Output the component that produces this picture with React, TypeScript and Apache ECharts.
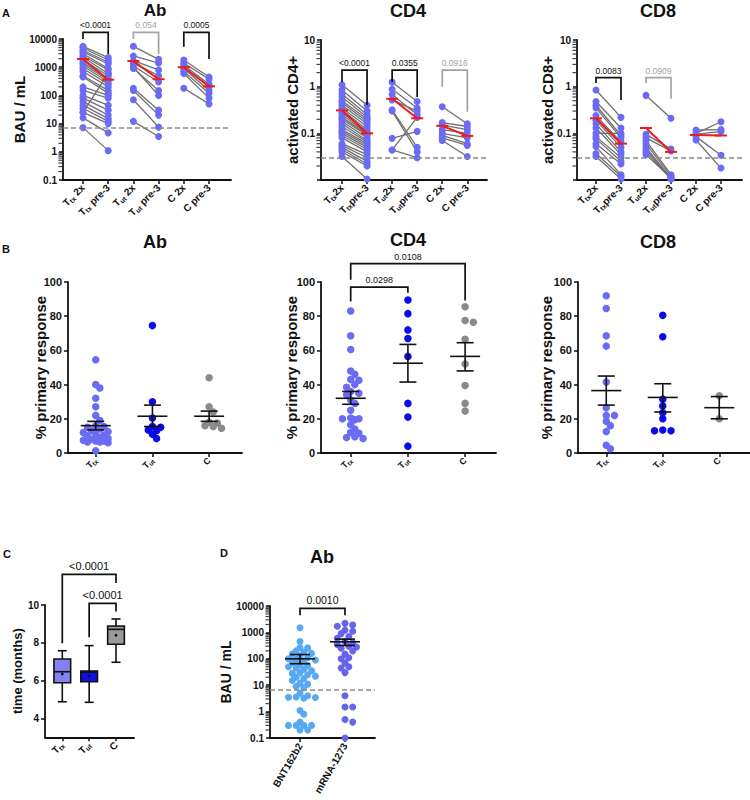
import React, { useEffect, useRef } from 'react';
import * as echarts from 'echarts';

const FONT = '"Liberation Sans", Arial, Helvetica, sans-serif';
const INK = '#111111';

// ---------------- Panel A : paired values (2x -> pre-3) ----------------
const abTtx2x = [5500, 4800, 4000, 3500, 3000, 2500, 2200, 1800, 1500, 1300, 1100, 900, 700, 500, 450, 200, 150, 100, 80, 60, 45, 35, 25, 16, 7.2, 25];
const abTtxPre3 = [2200, 1800, 1500, 1300, 900, 800, 600, 500, 400, 350, 300, 250, 200, 150, 120, 100, 80, 45, 30, 20, 15, 12, 10, 4.7, 1.1, 600];
const abTut2x = [5500, 2500, 1700, 1400, 1100, 1000, 900, 180, 150, 70, 12];
const abTutPre3 = [1900, 1400, 800, 500, 300, 100, 150, 30, 20, 7.5, 3.5];
const abC2x = [1800, 1400, 1200, 1000, 900, 700, 600, 180];
const abCPre3 = [450, 380, 250, 200, 150, 120, 80, 50];
const abMeans = [[1950, 360], [1650, 375], [1000, 210]];

const cd4Ttx2x = [1.1, 0.85, 0.7, 0.6, 0.5, 0.45, 0.4, 0.35, 0.32, 0.28, 0.25, 0.22, 0.2, 0.18, 0.16, 0.14, 0.12, 0.11, 0.1, 0.09, 0.08, 0.06, 0.055, 0.05, 0.045, 0.04, 0.032];
const cd4TtxPre3 = [0.4, 0.3, 0.25, 0.22, 0.2, 0.18, 0.16, 0.14, 0.12, 0.11, 0.1, 0.095, 0.09, 0.08, 0.07, 0.065, 0.06, 0.055, 0.05, 0.045, 0.04, 0.035, 0.03, 0.025, 0.022, 0.02, 0.0105];
const cd4Tut2x = [1.25, 0.88, 0.68, 0.52, 0.32, 0.3, 0.078, 0.044, 0.044];
const cd4TutPre3 = [0.48, 0.35, 0.25, 0.3, 0.05, 0.04, 0.11, 0.22, 0.03];
const cd4C2x = [0.37, 0.17, 0.15, 0.12, 0.1, 0.09, 0.08, 0.07];
const cd4CPre3 = [0.16, 0.14, 0.12, 0.1, 0.08, 0.06, 0.055, 0.032];
const cd4Means = [[0.31, 0.1], [0.55, 0.21], [0.145, 0.088]];

const cd8Ttx2x = [0.85, 0.48, 0.4, 0.35, 0.24, 0.19, 0.16, 0.13, 0.1, 0.085, 0.077, 0.06, 0.052, 0.037, 0.032];
const cd8TtxPre3 = [0.22, 0.13, 0.09, 0.08, 0.065, 0.05, 0.04, 0.035, 0.1, 0.03, 0.025, 0.022, 0.013, 0.012, 0.0105];
const cd8Tut2x = [0.65, 0.095, 0.08, 0.07, 0.06, 0.05, 0.045, 0.04, 0.035];
const cd8TutPre3 = [0.21, 0.046, 0.042, 0.013, 0.012, 0.011, 0.0105, 0.0105, 0.011];
const cd8C2x = [0.118, 0.1, 0.095, 0.085, 0.072];
const cd8CPre3 = [0.12, 0.177, 0.11, 0.034, 0.018];
const cd8Means = [[0.21, 0.06], [0.13, 0.04], [0.092, 0.09]];

const abLimit = 7;
const tcellLimit = 0.031;

const abPairLabels = ['{n|T}{s|tx}{n| 2x}', '{n|T}{s|tx}{n| pre-3}', '{n|T}{s|ut}{n| 2x}', '{n|T}{s|ut}{n| pre-3}', '{n|C 2x}', '{n|C pre-3}'];
const tPairLabels = ['{n|T}{s|tx}{n|2x}', '{n|T}{s|tx}{n|pre-3}', '{n|T}{s|ut}{n|2x}', '{n|T}{s|ut}{n|pre-3}', '{n|C 2x}', '{n|C pre-3}'];
const groupLabels = ['{n|T}{s|tx}', '{n|T}{s|ut}', '{n|C}'];
const vaccineLabels = ['BNT162b2', 'mRNA-1273'];

const abBrackets = [
  { x0: 0, x1: 1, top: 17300, l: 10000, r: 2940, p: '<0.0001', sig: true },
  { x0: 2, x1: 3, top: 17300, l: 10000, r: 2940, p: '0.054', sig: false },
  { x0: 4, x1: 5, top: 17300, l: 5330, r: 1950, p: '0.0005', sig: true },
];
const cd4Brackets = [
  { x0: 0, x1: 1, top: 2.27, l: 1.26, r: 0.405, p: '<0.0001', sig: true },
  { x0: 2, x1: 3, top: 2.27, l: 1.26, r: 0.6, p: '0.0355', sig: true },
  { x0: 4, x1: 5, top: 2.27, l: 0.99, r: 0.29, p: '0.0916', sig: false },
];
const cd8Brackets = [
  { x0: 0, x1: 1, top: 1.56, l: 1.2, r: 0.52, p: '0.0083', sig: true },
  { x0: 2, x1: 3, top: 1.56, l: 1.2, r: 0.55, p: '0.0909', sig: false },
];

// ---------------- Panel B : % primary response ----------------
const bAbTtx = [54.5, 40, 38, 32, 27, 22, 19, 16, 15.5, 15, 14, 13, 12.5, 12, 11, 10.5, 10, 9, 8.5, 8, 7.5, 7, 7, 6.5, 6.5, 6, 1.3];
const bAbTut = [74.5, 30, 20.5, 15.5, 15, 13.5, 13, 11, 8.5];
const bAbC = [44, 27, 24, 18, 17.5, 16, 15.5, 14.5];
const bAbStats = [[16, 13.5, 18.5], [21.5, 15.5, 28], [21.5, 18.5, 24.5]];

const bCD4Ttx = [83, 68.5, 60.5, 48, 46, 43, 42.5, 40, 38.5, 36, 35, 34, 31, 29, 25, 20.5, 20, 20, 19.5, 16.5, 14, 12, 11.5, 9.5, 9, 8.5];
const bCD4Tut = [89.5, 81.5, 72, 67, 56.5, 29, 21, 4];
const bCD4C = [85.5, 77.5, 76.5, 66.5, 52, 39.5, 29, 24.5];
const bCD4Stats = [[32, 28.5, 36], [52.5, 41.5, 63.5], [56.5, 48, 64.5]];
const bCD4Brackets = [
  { x0: 0, x1: 1, top: 97, l: 88.6, r: 93.7, p: '0.0298', sig: true },
  { x0: 0, x1: 2, top: 110.7, l: 101.3, r: 89.2, p: '0.0108', sig: true },
];

const bCD8Ttx = [92, 84.5, 68.5, 62.5, 41.5, 26.5, 22, 22, 18.5, 16, 12.5, 4.5, 2.5];
const bCD8Tut = [80.5, 68, 31.5, 27.5, 23.5, 20, 13.5, 13, 13];
const bCD8C = [33.5, 20];
const bCD8Stats = [[36.5, 28, 45], [32.5, 24, 40.5], [26.5, 20, 33]];

// ---------------- Panel C : time (months) box plots ----------------
const cBoxStats = [[4.88, 5.89, 6.47, 7.14, 7.58], [4.85, 5.94, 6.45, 6.51, 7.85], [6.97, 7.92, 8.71, 8.89, 9.26]];
const cBoxMeans = [6.35, 6.23, 8.4];
const cTicks = [4, 6, 8, 10];
const cBrackets = [
  { x0: 0, x1: 2, top: 11.62, l: 7.97, r: 11.16, p: '<0.0001', sig: true },
  { x0: 1, x1: 2, top: 10.09, l: 8.29, r: 9.65, p: '<0.0001', sig: true },
];

// ---------------- Panel D : Ab by vaccine ----------------
const dBNT = [1500, 450, 270, 260, 200, 180, 160, 150, 130, 110, 100, 95, 90, 85, 70, 60, 55, 50, 45, 40, 35, 30, 28, 25, 22, 20, 18, 15, 12, 11, 9, 8, 5, 4, 3.6, 3.5, 3.4, 3.2, 1.1, 0.8, 0.4, 0.3, 0.3, 0.3, 0.3, 0.2, 0.2];
const dMRNA = [2200, 1900, 1700, 1200, 1100, 900, 700, 600, 450, 400, 350, 300, 280, 250, 200, 150, 110, 100, 70, 50, 45, 30, 4, 1.5, 1.5, 0.5, 0.4, 0.1];
const dStats = [[100, 65, 145], [440, 320, 555]];
const dBrackets = [{ x0: 0, x1: 1, top: 8190, l: 4460, r: 4460, p: '0.0010', sig: true }];

// ---------------- styling ----------------
const A_DOT = '#6b6bf4';
const LINE_GRAY = '#707070';
const RED = '#ee1b1b';
const B_COLORS = ['#6b6bf4', '#0b0bea', '#8a8a8a'];
const BOX_COLORS = ['#8282f4', '#0f0fe2', '#9b9b9b'];
const D_COLORS = ['#58a9f4', '#6464ee'];
const SIG = '#111111';
const NS = '#a3a3a3';

const rich = (n: number, s: number, pad: number) => ({
  n: { fontSize: n, fontWeight: 'bold', fontFamily: FONT, color: INK },
  s: { fontSize: s, fontWeight: 'bold', fontFamily: FONT, color: INK, padding: [pad, 0, 0, 0] },
});

// beeswarm layout (dots may overlap a little, spread limited to maxOff px)
function swarm(vals: number[], cat: number, unitPx: number, toPx: (v: number) => number, d: number, maxOff: number) {
  const idx = vals.map((_, i) => i).sort((a, b) => vals[b] - vals[a]);
  const placed: number[][] = [];
  const out: number[][] = new Array(vals.length);
  const minDist = d * 0.7;
  const step = d * 0.55;
  for (const i of idx) {
    const y = toPx(vals[i]);
    let best = 0;
    let bestScore = -1;
    for (let k = 0; k < 80; k++) {
      const cand = k === 0 ? 0 : (k % 2 ? 1 : -1) * Math.ceil(k / 2) * step;
      if (Math.abs(cand) > maxOff) break;
      let md = Infinity;
      for (const p of placed) md = Math.min(md, Math.hypot(p[0] - cand, p[1] - y));
      if (md >= minDist) { best = cand; bestScore = Infinity; break; }
      if (md > bestScore) { bestScore = md; best = cand; }
    }
    placed.push([best, y]);
    out[i] = [cat + best / unitPx, vals[i]];
  }
  return out;
}

function buildOption() {
  const grids: any[] = [
    { left: 63, top: 39, width: 168, height: 141 },
    { left: 321, top: 40, width: 166, height: 140 },
    { left: 577, top: 40, width: 165, height: 140 },
    { left: 68, top: 282, width: 174, height: 171 },
    { left: 321, top: 282, width: 175, height: 171 },
    { left: 578, top: 282, width: 172, height: 171 },
    { left: 45, top: 605, width: 89, height: 132.3 },
    { left: 270, top: 606, width: 105, height: 132 },
  ].map((g) => ({ ...g, outerBoundsMode: 'none' }));

  const xRanges = [
    [-0.794, 5.873], [-0.838, 5.786], [-0.76, 5.84],
    [-0.489, 2.58], [-0.519, 2.54], [-0.5, 2.544],
    [-0.644, 2.67], [-0.667, 1.667],
  ];

  const xAxes: any[] = [];
  const yAxes: any[] = [];
  const series: any[] = [];

  const xAxis = (gi: number, labels: string[], rotate: number, r: any, fs: number) => ({
    type: 'value', gridIndex: gi, min: xRanges[gi][0], max: xRanges[gi][1],
    axisLine: { show: true, onZero: false, lineStyle: { color: INK, width: 1.8 } },
    axisTick: { show: true, length: 4, lineStyle: { color: INK, width: 1.5 }, customValues: labels.map((_, i) => i) },
    axisLabel: {
      customValues: labels.map((_, i) => i), rotate, margin: 6, rich: r,
      fontFamily: FONT, fontWeight: 'bold', fontSize: fs, color: INK,
      formatter: (v: number) => labels[Math.round(v)] ?? '',
    },
    splitLine: { show: false },
  });

  const yBase = (gi: number, name: string, nameGap: number, nameSize: number) => ({
    gridIndex: gi, name, nameLocation: 'middle', nameRotate: 90, nameGap, nameMoveOverlap: false,
    nameTextStyle: { fontFamily: FONT, fontWeight: 'bold', fontSize: nameSize, color: INK },
    axisLine: { show: true, onZero: false, lineStyle: { color: INK, width: 1.8 } },
    axisTick: { show: true, length: 4, lineStyle: { color: INK, width: 1.5 } },
    splitLine: { show: false },
  });

  const yLog = (gi: number, min: number, max: number, name: string, nameGap: number, nameSize: number, labelSize: number, minShown: number) => ({
    ...yBase(gi, name, nameGap, nameSize),
    type: 'log', logBase: 10, min, max,
    axisLabel: {
      fontFamily: FONT, fontWeight: 'bold', fontSize: labelSize, color: INK, margin: 6,
      formatter: (v: number) => (v < minShown * 0.999 ? '' : String(parseFloat(v.toPrecision(6)))),
    },
  });

  const minorTicks = (gi: number, min: number, max: number) => {
    const data: number[][] = [];
    for (let d = Math.round(Math.log10(min)); d < Math.round(Math.log10(max)); d++) {
      for (let k = 2; k <= 9; k++) data.push([xRanges[gi][0], k * Math.pow(10, d)]);
    }
    series.push({
      type: 'scatter', xAxisIndex: gi, yAxisIndex: gi, data, symbol: 'rect', symbolSize: [3.5, 1.2],
      symbolOffset: [-2.8, 0], itemStyle: { color: INK }, silent: true, clip: false, z: 1,
    });
  };

  const lodLine = (value: number) => ({
    silent: true, symbol: ['none', 'none'], label: { show: false },
    lineStyle: { type: [5, 3], color: '#8a8a8a', width: 1.5 }, data: [{ yAxis: value }],
  });

  const bracketSeries = (gi: number, brackets: any[], fs: number) => {
    series.push({
      type: 'custom', xAxisIndex: gi, yAxisIndex: gi, clip: false, silent: true, z: 6,
      data: brackets.map((b) => [b.x0, b.top]),
      renderItem: (params: any, api: any) => {
        const b = brackets[params.dataIndex];
        const color = b.sig ? SIG : NS;
        const pL = api.coord([b.x0, b.top]);
        const pR = api.coord([b.x1, b.top]);
        const pLe = api.coord([b.x0, b.l]);
        const pRe = api.coord([b.x1, b.r]);
        return {
          type: 'group',
          children: [
            { type: 'polyline', shape: { points: [pLe, pL, pR, pRe] }, style: { stroke: color, lineWidth: 1.7, fill: 'none' } },
            {
              type: 'text', x: (pL[0] + pR[0]) / 2, y: pL[1] - 2.5,
              style: { text: b.p, fill: color, fontSize: fs, fontFamily: FONT, align: 'center', verticalAlign: 'bottom', textAlign: 'center', textVerticalAlign: 'bottom' },
            },
          ],
        };
      },
    });
  };

  // ----- Panel A -----
  const pairedPanel = (gi: number, groups: number[][][], means: number[][], brackets: any[], lod: number, labels: string[], yMin: number, yMax: number, yName: string, nameGap: number, minShown: number) => {
    xAxes.push(xAxis(gi, labels, 45, rich(10, 7, 5), 10));
    yAxes.push(yLog(gi, yMin, yMax, yName, nameGap, 15, 10, minShown));
    const pairs: number[][] = [];
    const dots: number[][] = [];
    groups.forEach((g, k) => {
      g[0].forEach((v, i) => {
        pairs.push([k * 2, v, g[1][i]]);
        dots.push([k * 2, v]);
        dots.push([k * 2 + 1, g[1][i]]);
      });
    });
    series.push({
      type: 'custom', xAxisIndex: gi, yAxisIndex: gi, data: pairs, silent: true, z: 2, clip: false,
      renderItem: (params: any, api: any) => {
        const p1 = api.coord([api.value(0), api.value(1)]);
        const p2 = api.coord([api.value(0) + 1, api.value(2)]);
        return { type: 'line', shape: { x1: p1[0], y1: p1[1], x2: p2[0], y2: p2[1] }, style: { stroke: LINE_GRAY, lineWidth: 1.3 } };
      },
    });
    series.push({
      type: 'scatter', xAxisIndex: gi, yAxisIndex: gi, data: dots, symbolSize: 7, silent: true, z: 3, clip: false,
      itemStyle: { color: A_DOT, opacity: 1 }, markLine: lodLine(lod),
    });
    series.push({
      type: 'custom', xAxisIndex: gi, yAxisIndex: gi, silent: true, z: 5, clip: false,
      data: means.map((m, k) => [k * 2, m[0], m[1]]),
      renderItem: (params: any, api: any) => {
        const p1 = api.coord([api.value(0), api.value(1)]);
        const p2 = api.coord([api.value(0) + 1, api.value(2)]);
        const st = { stroke: RED, lineWidth: 2 };
        return {
          type: 'group',
          children: [
            { type: 'line', shape: { x1: p1[0], y1: p1[1], x2: p2[0], y2: p2[1] }, style: st },
            { type: 'line', shape: { x1: p1[0] - 6, y1: p1[1], x2: p1[0] + 6, y2: p1[1] }, style: st },
            { type: 'line', shape: { x1: p2[0] - 6, y1: p2[1], x2: p2[0] + 6, y2: p2[1] }, style: st },
          ],
        };
      },
    });
    bracketSeries(gi, brackets, 8.5);
    minorTicks(gi, yMin, yMax);
  };

  pairedPanel(0, [[abTtx2x, abTtxPre3], [abTut2x, abTutPre3], [abC2x, abCPre3]], abMeans, abBrackets, abLimit, abPairLabels, 0.1, 10000, 'BAU / mL', 36, 0.1);
  pairedPanel(1, [[cd4Ttx2x, cd4TtxPre3], [cd4Tut2x, cd4TutPre3], [cd4C2x, cd4CPre3]], cd4Means, cd4Brackets, tcellLimit, tPairLabels, 0.01, 10, 'activated CD4+', 21, 0.1);
  pairedPanel(2, [[cd8Ttx2x, cd8TtxPre3], [cd8Tut2x, cd8TutPre3], [cd8C2x, cd8CPre3]], cd8Means, cd8Brackets, tcellLimit, tPairLabels, 0.01, 10, 'activated CD8+', 22, 0.1);

  // ----- error bars -----
  const errorBars = (gi: number, stats: number[][], meanW: number, capW: number) => {
    series.push({
      type: 'custom', xAxisIndex: gi, yAxisIndex: gi, silent: true, z: 5, clip: false,
      data: stats.map((s, k) => [k, s[0], s[1], s[2]]),
      renderItem: (params: any, api: any) => {
        const x = api.value(0);
        const pm = api.coord([x, api.value(1)]);
        const pl = api.coord([x, api.value(2)]);
        const ph = api.coord([x, api.value(3)]);
        const st = { stroke: INK, lineWidth: 1.6 };
        return {
          type: 'group',
          children: [
            { type: 'line', shape: { x1: pm[0] - meanW / 2, y1: pm[1], x2: pm[0] + meanW / 2, y2: pm[1] }, style: st },
            { type: 'line', shape: { x1: pl[0], y1: pl[1], x2: ph[0], y2: ph[1] }, style: st },
            { type: 'line', shape: { x1: pl[0] - capW / 2, y1: pl[1], x2: pl[0] + capW / 2, y2: pl[1] }, style: st },
            { type: 'line', shape: { x1: ph[0] - capW / 2, y1: ph[1], x2: ph[0] + capW / 2, y2: ph[1] }, style: st },
          ],
        };
      },
    });
  };

  // ----- Panel B -----
  const swarmPanel = (gi: number, groups: number[][], stats: number[][], nameGap: number) => {
    xAxes.push(xAxis(gi, groupLabels, 45, rich(9, 6.5, 4), 9));
    yAxes.push({
      ...yBase(gi, '% primary response', nameGap, 15), type: 'value', min: 0, max: 100, interval: 20,
      axisLabel: { fontFamily: FONT, fontWeight: 'bold', fontSize: 11, color: INK, margin: 6 },
    });
    const unitPx = grids[gi].width / (xRanges[gi][1] - xRanges[gi][0]);
    const pxPerVal = grids[gi].height / 100;
    groups.forEach((vals, k) => {
      series.push({
        type: 'scatter', xAxisIndex: gi, yAxisIndex: gi, symbolSize: 7.5, silent: true, z: 3, clip: false,
        itemStyle: { color: B_COLORS[k], opacity: 1 },
        data: swarm(vals, k, unitPx, (v) => v * pxPerVal, 7.5, 14),
      });
    });
    errorBars(gi, stats, 30, 17);
  };

  swarmPanel(3, [bAbTtx, bAbTut, bAbC], bAbStats, 20);
  swarmPanel(4, [bCD4Ttx, bCD4Tut, bCD4C], bCD4Stats, 22);
  bracketSeries(4, bCD4Brackets, 9);
  swarmPanel(5, [bCD8Ttx, bCD8Tut, bCD8C], bCD8Stats, 24);

  // ----- Panel C -----
  xAxes.push(xAxis(6, groupLabels, 45, rich(10, 7, 5), 10));
  yAxes.push({
    ...yBase(6, 'time (months)', 21, 13), type: 'value', min: 3, max: 10,
    axisTick: { show: true, length: 4, lineStyle: { color: INK, width: 1.5 }, customValues: cTicks },
    axisLabel: { customValues: cTicks, fontFamily: FONT, fontWeight: 'bold', fontSize: 10, color: INK, margin: 6 },
  });
  series.push({
    type: 'custom', xAxisIndex: 6, yAxisIndex: 6, silent: true, z: 4, clip: false,
    data: cBoxStats.map((s, k) => [k, ...s, cBoxMeans[k]]),
    renderItem: (params: any, api: any) => {
      const x = api.value(0);
      const c = (i: number) => api.coord([x, api.value(i)]);
      const pMin = c(1), pQ1 = c(2), pMed = c(3), pQ3 = c(4), pMax = c(5), pMean = c(6);
      const bw = 16.7, cw = 9;
      const st = { stroke: INK, lineWidth: 1.6 };
      const cx = pMed[0];
      return {
        type: 'group',
        children: [
          { type: 'line', shape: { x1: cx, y1: pMin[1], x2: cx, y2: pQ1[1] }, style: st },
          { type: 'line', shape: { x1: cx, y1: pQ3[1], x2: cx, y2: pMax[1] }, style: st },
          { type: 'line', shape: { x1: cx - cw / 2, y1: pMin[1], x2: cx + cw / 2, y2: pMin[1] }, style: st },
          { type: 'line', shape: { x1: cx - cw / 2, y1: pMax[1], x2: cx + cw / 2, y2: pMax[1] }, style: st },
          { type: 'rect', shape: { x: cx - bw / 2, y: pQ3[1], width: bw, height: pQ1[1] - pQ3[1] }, style: { fill: BOX_COLORS[params.dataIndex], stroke: INK, lineWidth: 1.6 } },
          { type: 'line', shape: { x1: cx - bw / 2, y1: pMed[1], x2: cx + bw / 2, y2: pMed[1] }, style: st },
          { type: 'circle', shape: { cx, cy: pMean[1], r: 1.4 }, style: { fill: INK } },
        ],
      };
    },
  });
  bracketSeries(6, cBrackets, 11);

  // ----- Panel D -----
  xAxes.push(xAxis(7, vaccineLabels, 60, undefined, 10));
  yAxes.push(yLog(7, 0.1, 10000, 'BAU / mL', 37, 14, 10, 0.1));
  {
    const unitPx = grids[7].width / (xRanges[7][1] - xRanges[7][0]);
    const pxPerDecade = grids[7].height / 5;
    [dBNT, dMRNA].forEach((vals, k) => {
      series.push({
        type: 'scatter', xAxisIndex: 7, yAxisIndex: 7, symbolSize: 7, silent: true, z: 3, clip: false,
        itemStyle: { color: D_COLORS[k], opacity: 1 },
        data: swarm(vals, k, unitPx, (v) => Math.log10(v) * pxPerDecade, 7, 17),
        markLine: k === 0 ? lodLine(abLimit) : undefined,
      });
    });
    errorBars(7, dStats, 30, 20);
    bracketSeries(7, dBrackets, 10.5);
    minorTicks(7, 0.1, 10000);
  }

  const txt = (x: number, y: number, text: string, size: number, align = 'center') => ({
    type: 'text', x, y, silent: true,
    style: { text, fill: INK, fontSize: size, fontWeight: 'bold', fontFamily: FONT, textAlign: align, textVerticalAlign: 'middle', align, verticalAlign: 'middle' },
  });

  return {
    animation: false,
    grid: grids,
    xAxis: xAxes,
    yAxis: yAxes,
    series,
    graphic: [
      txt(2, 13, 'A', 11, 'left'),
      txt(155, 10, 'Ab', 17),
      txt(408, 11, 'CD4', 18),
      txt(658, 11, 'CD8', 18),
      txt(2, 249, 'B', 11, 'left'),
      txt(155, 242, 'Ab', 18),
      txt(408, 240, 'CD4', 18),
      txt(658, 242, 'CD8', 18),
      txt(3, 554, 'C', 11, 'left'),
      txt(220, 553, 'D', 11, 'left'),
      txt(322, 557, 'Ab', 18),
    ],
  };
}

export default function App() {
  const ref = useRef<HTMLDivElement>(null);
  useEffect(() => {
    if (!ref.current) return;
    const chart = echarts.init(ref.current, null, { renderer: 'svg' });
    chart.setOption(buildOption() as any);
    return () => chart.dispose();
  }, []);
  return <div ref={ref} style={{ position: 'absolute', left: 0, top: 0, width: 750, height: 800, background: '#fff' }} />;
}
